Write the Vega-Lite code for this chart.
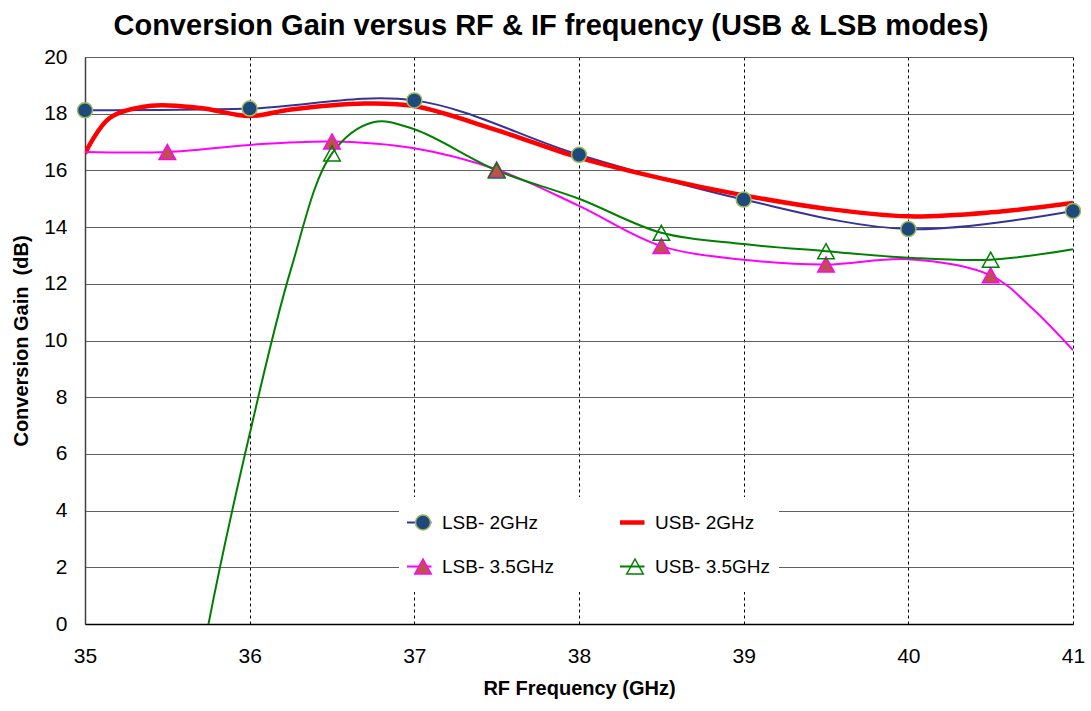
{
  "$schema": "https://vega.github.io/schema/vega-lite/v6.json",
  "width": 988,
  "height": 567,
  "autosize": {"type": "none"},
  "padding": {"left": 85, "top": 57, "right": 18, "bottom": 87},
  "background": "white",
  "title": {
    "text": "Conversion Gain versus RF & IF frequency (USB & LSB modes)",
    "fontSize": 29,
    "fontWeight": "bold",
    "font": "Liberation Sans",
    "color": "black",
    "anchor": "middle",
    "dx": -28,
    "offset": 5
  },
  "config": {
    "view": {"stroke": null},
    "font": "Liberation Sans"
  },
  "datasets": {
    "curves": [
      {"series": "LSB- 2GHz", "rf": 35, "gain": 18.12},
      {"series": "LSB- 2GHz", "rf": 36, "gain": 18.18},
      {"series": "LSB- 2GHz", "rf": 37, "gain": 18.47},
      {"series": "LSB- 2GHz", "rf": 38, "gain": 16.55},
      {"series": "LSB- 2GHz", "rf": 39, "gain": 14.97},
      {"series": "LSB- 2GHz", "rf": 40, "gain": 13.93},
      {"series": "LSB- 2GHz", "rf": 41, "gain": 14.57},
      {"series": "USB- 2GHz", "rf": 35, "gain": 16.6},
      {"series": "USB- 2GHz", "rf": 35.15, "gain": 17.85},
      {"series": "USB- 2GHz", "rf": 35.4, "gain": 18.28},
      {"series": "USB- 2GHz", "rf": 35.7, "gain": 18.2},
      {"series": "USB- 2GHz", "rf": 36, "gain": 17.92},
      {"series": "USB- 2GHz", "rf": 36.25, "gain": 18.15},
      {"series": "USB- 2GHz", "rf": 36.7, "gain": 18.36},
      {"series": "USB- 2GHz", "rf": 37, "gain": 18.27},
      {"series": "USB- 2GHz", "rf": 37.5, "gain": 17.42},
      {"series": "USB- 2GHz", "rf": 38, "gain": 16.45},
      {"series": "USB- 2GHz", "rf": 38.5, "gain": 15.72},
      {"series": "USB- 2GHz", "rf": 39, "gain": 15.12},
      {"series": "USB- 2GHz", "rf": 39.5, "gain": 14.65},
      {"series": "USB- 2GHz", "rf": 40, "gain": 14.38},
      {"series": "USB- 2GHz", "rf": 40.5, "gain": 14.52},
      {"series": "USB- 2GHz", "rf": 41, "gain": 14.85},
      {"series": "LSB- 3.5GHz", "rf": 35, "gain": 16.65},
      {"series": "LSB- 3.5GHz", "rf": 35.5, "gain": 16.65},
      {"series": "LSB- 3.5GHz", "rf": 36, "gain": 16.9},
      {"series": "LSB- 3.5GHz", "rf": 36.5, "gain": 17.02},
      {"series": "LSB- 3.5GHz", "rf": 37, "gain": 16.78},
      {"series": "LSB- 3.5GHz", "rf": 37.5, "gain": 16.03},
      {"series": "LSB- 3.5GHz", "rf": 38, "gain": 14.75},
      {"series": "LSB- 3.5GHz", "rf": 38.5, "gain": 13.33},
      {"series": "LSB- 3.5GHz", "rf": 39, "gain": 12.85},
      {"series": "LSB- 3.5GHz", "rf": 39.5, "gain": 12.68},
      {"series": "LSB- 3.5GHz", "rf": 40, "gain": 12.87},
      {"series": "LSB- 3.5GHz", "rf": 40.5, "gain": 12.3},
      {"series": "LSB- 3.5GHz", "rf": 40.75, "gain": 11.15},
      {"series": "LSB- 3.5GHz", "rf": 41, "gain": 9.66},
      {"series": "USB- 3.5GHz", "rf": 35.5, "gain": -8.5},
      {"series": "USB- 3.5GHz", "rf": 35.75, "gain": 0},
      {"series": "USB- 3.5GHz", "rf": 36, "gain": 6.7},
      {"series": "USB- 3.5GHz", "rf": 36.25, "gain": 12.5},
      {"series": "USB- 3.5GHz", "rf": 36.5, "gain": 16.6},
      {"series": "USB- 3.5GHz", "rf": 36.75, "gain": 17.7},
      {"series": "USB- 3.5GHz", "rf": 37, "gain": 17.45},
      {"series": "USB- 3.5GHz", "rf": 37.5, "gain": 16.0},
      {"series": "USB- 3.5GHz", "rf": 38, "gain": 15.0},
      {"series": "USB- 3.5GHz", "rf": 38.5, "gain": 13.8},
      {"series": "USB- 3.5GHz", "rf": 39, "gain": 13.4},
      {"series": "USB- 3.5GHz", "rf": 39.5, "gain": 13.15},
      {"series": "USB- 3.5GHz", "rf": 40, "gain": 12.92},
      {"series": "USB- 3.5GHz", "rf": 40.5, "gain": 12.85},
      {"series": "USB- 3.5GHz", "rf": 41, "gain": 13.22}
    ],
    "markers": [
      {"series": "LSB- 2GHz", "rf": 35, "gain": 18.12},
      {"series": "LSB- 2GHz", "rf": 36, "gain": 18.18},
      {"series": "LSB- 2GHz", "rf": 37, "gain": 18.47},
      {"series": "LSB- 2GHz", "rf": 38, "gain": 16.55},
      {"series": "LSB- 2GHz", "rf": 39, "gain": 14.97},
      {"series": "LSB- 2GHz", "rf": 40, "gain": 13.93},
      {"series": "LSB- 2GHz", "rf": 41, "gain": 14.57},
      {"series": "LSB- 3.5GHz", "rf": 35.5, "gain": 16.65},
      {"series": "LSB- 3.5GHz", "rf": 36.5, "gain": 17.02},
      {"series": "LSB- 3.5GHz", "rf": 37.5, "gain": 16.03},
      {"series": "LSB- 3.5GHz", "rf": 38.5, "gain": 13.33},
      {"series": "LSB- 3.5GHz", "rf": 39.5, "gain": 12.68},
      {"series": "LSB- 3.5GHz", "rf": 40.5, "gain": 12.3},
      {"series": "USB- 3.5GHz", "rf": 36.5, "gain": 16.6},
      {"series": "USB- 3.5GHz", "rf": 37.5, "gain": 16.0},
      {"series": "USB- 3.5GHz", "rf": 38.5, "gain": 13.8},
      {"series": "USB- 3.5GHz", "rf": 39.5, "gain": 13.15},
      {"series": "USB- 3.5GHz", "rf": 40.5, "gain": 12.85}
    ]
  },
  "layer": [
    {
      "data": {"name": "curves"},
      "mark": {"type": "line", "interpolate": "catmull-rom", "clip": true},
      "encoding": {
        "x": {
          "field": "rf",
          "type": "quantitative",
          "scale": {"domain": [35, 41], "nice": false, "zero": false},
          "axis": {
            "values": [35, 36, 37, 38, 39, 40, 41],
            "format": "d",
            "grid": true,
            "gridDash": [3, 3],
            "gridColor": "#000000",
            "gridWidth": 1,
            "ticks": false,
            "tickSize": 0,
            "domain": true,
            "domainColor": "#000000",
            "domainWidth": 1.5,
            "labelFlush": false,
            "labelFont": "Liberation Sans",
            "labelFontSize": 21,
            "labelColor": "black",
            "labelPadding": 21,
            "title": "RF Frequency (GHz)",
            "titleFont": "Liberation Sans",
            "titleFontSize": 20,
            "titleFontWeight": "bold",
            "titleColor": "black",
            "titlePadding": 12
          }
        },
        "y": {
          "field": "gain",
          "type": "quantitative",
          "scale": {"domain": [0, 20], "nice": false},
          "axis": {
            "values": [0, 2, 4, 6, 8, 10, 12, 14, 16, 18, 20],
            "grid": true,
            "gridColor": "#606060",
            "gridWidth": 1.2,
            "ticks": false,
            "tickSize": 0,
            "domain": true,
            "domainColor": "#404040",
            "domainWidth": 1.5,
            "labelFlush": false,
            "labelFont": "Liberation Sans",
            "labelFontSize": 21,
            "labelColor": "black",
            "labelPadding": 18,
            "title": "Conversion Gain\u00a0\u00a0(dB)",
            "titleFont": "Liberation Sans",
            "titleFontSize": 20,
            "titleFontWeight": "bold",
            "titleColor": "black",
            "titlePadding": 12
          }
        },
        "color": {
          "field": "series",
          "type": "nominal",
          "sort": ["LSB- 2GHz", "USB- 2GHz", "LSB- 3.5GHz", "USB- 3.5GHz"],
          "scale": {"range": ["#333399", "#ff0000", "#ff00ff", "#008000"]},
          "legend": {
            "orient": "none",
            "direction": "horizontal",
            "legendX": 314,
            "legendY": 440,
            "columns": 2,
            "columnPadding": 66,
            "rowPadding": 9,
            "padding": 8,
            "clipHeight": 35,
            "labelOffset": 16,
            "fillColor": "white",
            "title": null,
            "labelFont": "Liberation Sans",
            "labelFontSize": 19,
            "labelColor": "black",
            "labelLimit": 300,
            "symbolType": "M-1,0H1",
            "symbolSize": 900,
            "symbolStrokeWidth": 2,
            "zindex": 1,
            "encode": {
              "symbols": {
                "update": {
                  "size": {"value": 900},
                  "strokeWidth": {"signal": "datum.value === 'USB- 2GHz' ? 4.5 : 2"}
                }
              }
            }
          }
        },
        "strokeWidth": {
          "condition": {"test": "datum.series === 'USB- 2GHz'", "value": 4.5},
          "value": 2
        }
      }
    },
    {
      "data": {"name": "markers"},
      "mark": {"type": "point", "filled": true, "size": 900, "strokeWidth": 1.5, "opacity": 1},
      "encoding": {
        "x": {"field": "rf", "type": "quantitative"},
        "y": {"field": "gain", "type": "quantitative"},
        "shape": {
          "field": "series",
          "type": "nominal",
          "scale": {
            "domain": ["LSB- 2GHz", "USB- 2GHz", "LSB- 3.5GHz", "USB- 3.5GHz"],
            "range": [
              "M0.5,0A0.5,0.5,0,1,1,-0.5,0A0.5,0.5,0,1,1,0.5,0Z",
              "M0.5,0A0.5,0.5,0,1,1,-0.5,0A0.5,0.5,0,1,1,0.5,0Z",
              "M0,-0.5L0.55,0.5L-0.55,0.5Z",
              "M0,-0.5L0.55,0.5L-0.55,0.5Z"
            ]
          },
          "legend": {
            "orient": "none",
            "direction": "horizontal",
            "legendX": 314,
            "legendY": 440,
            "columns": 2,
            "columnPadding": 178,
            "rowPadding": 9,
            "padding": 8,
            "clipHeight": 35,
            "labelOffset": 2,
            "labelExpr": "''",
            "title": null,
            "labelFont": "Liberation Sans",
            "labelFontSize": 18,
            "labelLimit": 300,
            "symbolSize": 900,
            "symbolStrokeWidth": 1.5,
            "zindex": 2,
            "encode": {
              "symbols": {
                "update": {
                  "size": {"value": 900},
                  "strokeWidth": {"signal": "datum.value === 'USB- 2GHz' ? 4.5 : 1.5"}
                }
              }
            }
          }
        },
        "fill": {
          "field": "series",
          "type": "nominal",
          "scale": {
            "domain": ["LSB- 2GHz", "USB- 2GHz", "LSB- 3.5GHz", "USB- 3.5GHz"],
            "range": ["#1f497d", "transparent", "#c0504d", "transparent"]
          },
          "legend": {
            "orient": "none",
            "direction": "horizontal",
            "legendX": 314,
            "legendY": 440,
            "columns": 2,
            "columnPadding": 178,
            "rowPadding": 9,
            "padding": 8,
            "clipHeight": 35,
            "labelOffset": 2,
            "labelExpr": "''",
            "title": null,
            "labelFont": "Liberation Sans",
            "labelFontSize": 18,
            "labelLimit": 300,
            "symbolSize": 900,
            "symbolStrokeWidth": 1.5,
            "zindex": 2
          }
        },
        "stroke": {
          "field": "series",
          "type": "nominal",
          "scale": {
            "domain": ["LSB- 2GHz", "USB- 2GHz", "LSB- 3.5GHz", "USB- 3.5GHz"],
            "range": ["#9bbb59", "transparent", "#ff00ff", "#008000"]
          },
          "legend": {
            "orient": "none",
            "direction": "horizontal",
            "legendX": 314,
            "legendY": 440,
            "columns": 2,
            "columnPadding": 178,
            "rowPadding": 9,
            "padding": 8,
            "clipHeight": 35,
            "labelOffset": 2,
            "labelExpr": "''",
            "title": null,
            "labelFont": "Liberation Sans",
            "labelFontSize": 18,
            "labelLimit": 300,
            "symbolSize": 900,
            "symbolStrokeWidth": 1.5,
            "zindex": 2
          }
        }
      }
    }
  ]
}
